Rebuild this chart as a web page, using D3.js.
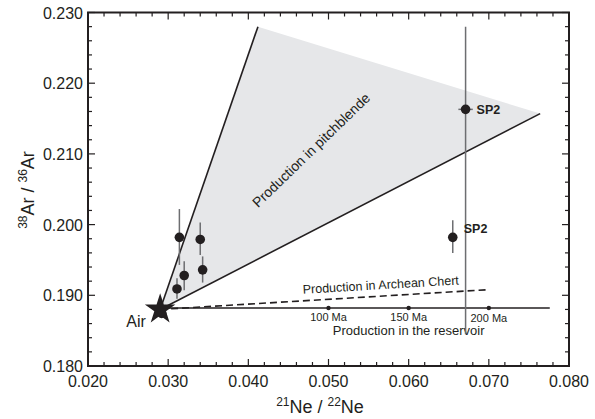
<!DOCTYPE html>
<html lang="en">
<head>
<meta charset="utf-8">
<title>Ne Ar</title>
<style>
  body { margin: 0; background: #fff; }
  svg text { font-family: "Liberation Sans", Arial, sans-serif; fill: #231f20; }
</style>
</head>
<body>
<div id="chart"></div>
<script src="https://d3js.org/d3.v7.min.js"></script>
<script>
// data
const airPoint = [0.0290, 0.1880];
const sampleX = [0.0314, 0.0340, 0.0320, 0.0343, 0.0311, 0.0671, 0.0655];
const sampleY = [0.1982, 0.1979, 0.1928, 0.1936, 0.1909, 0.2163, 0.1982];
const sampleYLow = [0.1943, 0.1957, 0.1907, 0.1918, 0.1895, 0.1845, 0.1960];
const sampleYHigh = [0.2022, 0.2003, 0.1948, 0.1955, 0.1924, 0.2280, 0.2006];
const sampleXErr = [0, 0, 0, 0, 0, 0.0009, 0];
const sampleLabels = ["", "", "", "", "", "SP2", "SP2"];

const pitchX = [0.0290, 0.0412, 0.0764];
const pitchY = [0.1880, 0.2280, 0.2157];
const chertX = [0.0290, 0.0700];
const chertY = [0.1880, 0.1908];
const reservoirX = [0.0290, 0.0776];
const reservoirY = [0.1882, 0.1882];
const ageX = [0.050, 0.060, 0.070];
const ageLabels = ["100 Ma", "150 Ma", "200 Ma"];

const xTicks = [0.02, 0.03, 0.04, 0.05, 0.06, 0.07, 0.08];
const yTicks = [0.18, 0.19, 0.20, 0.21, 0.22, 0.23];

const W = 595, H = 419;
const mLeft = 88, mRight = 569, mTop = 12.5, mBottom = 366;
const ink = "#231f20";

const svg = d3.select("#chart").append("svg")
  .attr("width", W).attr("height", H);

const x = d3.scaleLinear().domain([0.02, 0.08]).range([mLeft, mRight]);
const y = d3.scaleLinear().domain([0.18, 0.23]).range([mBottom, mTop]);

// shaded pitchblende field
svg.append("path")
  .attr("d", d3.line()(pitchX.map((d, i) => [x(d), y(pitchY[i])])) + "Z")
  .attr("fill", "#e6e7e9");

// its two bounding lines
[1, 2].forEach(i => {
  svg.append("line")
    .attr("x1", x(pitchX[0])).attr("y1", y(pitchY[0]))
    .attr("x2", x(pitchX[i])).attr("y2", y(pitchY[i]))
    .attr("stroke", ink).attr("stroke-width", 1.6);
});

svg.append("text")
  .attr("transform", "translate(312,151) rotate(-44)")
  .attr("text-anchor", "middle").attr("dominant-baseline", "middle")
  .attr("font-size", 14)
  .text("Production in pitchblende");

// reservoir line
svg.append("line")
  .attr("x1", x(reservoirX[0])).attr("y1", y(reservoirY[0]))
  .attr("x2", x(reservoirX[1])).attr("y2", y(reservoirY[1]))
  .attr("stroke", ink).attr("stroke-width", 1.6);

svg.selectAll(".age").data(ageX).enter().append("circle")
  .attr("cx", d => x(d)).attr("cy", y(reservoirY[0])).attr("r", 2.2)
  .attr("fill", ink);

svg.selectAll(".ageLabel").data(ageLabels).enter().append("text")
  .attr("x", (d, i) => x(ageX[i])).attr("y", (d, i) => i === 2 ? 321.5 : 320.5)
  .attr("text-anchor", "middle").attr("font-size", 11)
  .text(d => d);

svg.append("text")
  .attr("x", x(0.060)).attr("y", 334.5)
  .attr("text-anchor", "middle").attr("font-size", 13)
  .text("Production in the reservoir");

// archean chert dashed line
svg.append("line")
  .attr("x1", x(chertX[0])).attr("y1", y(chertY[0]))
  .attr("x2", x(chertX[1])).attr("y2", y(chertY[1]))
  .attr("stroke", ink).attr("stroke-width", 1.6)
  .attr("stroke-dasharray", "7,4");

const chertAngle = Math.atan2(y(chertY[1]) - y(chertY[0]), x(chertX[1]) - x(chertX[0])) * 180 / Math.PI;
const chertMid = x.invert(381);
const chertMidY = chertY[0] + (chertMid - chertX[0]) / (chertX[1] - chertX[0]) * (chertY[1] - chertY[0]);
svg.append("text")
  .attr("transform", `translate(381,${y(chertMidY) - 7}) rotate(${chertAngle})`)
  .attr("text-anchor", "middle").attr("font-size", 12.5)
  .text("Production in Archean Chert");

// samples
const samples = sampleX.map((d, i) => ({
  x: d, y: sampleY[i], lo: sampleYLow[i], hi: sampleYHigh[i], xe: sampleXErr[i], label: sampleLabels[i]
}));

svg.selectAll(".ebar").data(samples).enter().append("line")
  .attr("x1", d => x(d.x)).attr("x2", d => x(d.x))
  .attr("y1", d => y(d.lo)).attr("y2", d => y(d.hi))
  .attr("stroke", "#6d6e71").attr("stroke-width", 1.5);

svg.selectAll(".xbar").data(samples.filter(d => d.xe > 0)).enter().append("line")
  .attr("x1", d => x(d.x - d.xe)).attr("x2", d => x(d.x + d.xe))
  .attr("y1", d => y(d.y)).attr("y2", d => y(d.y))
  .attr("stroke", "#6d6e71").attr("stroke-width", 1.5);

svg.selectAll(".dot").data(samples).enter().append("circle")
  .attr("cx", d => x(d.x)).attr("cy", d => y(d.y)).attr("r", 4.8)
  .attr("fill", ink);

svg.selectAll(".lab").data(samples.filter(d => d.label)).enter().append("text")
  .attr("x", d => x(d.x) + 11).attr("y", (d, i) => y(d.y) + (i === 0 ? 5 : -4))
  .attr("font-size", 12.5).attr("font-weight", "bold")
  .text(d => d.label);

// air
svg.append("circle")
  .attr("cx", x(airPoint[0]) + 1.5).attr("cy", y(airPoint[1]) + 4).attr("r", 4.8)
  .attr("fill", ink);
svg.append("path")
  .attr("d", d3.symbol().type(d3.symbolStar).size(290)())
  .attr("transform", `translate(${x(airPoint[0])},${y(airPoint[1])})`)
  .attr("fill", ink);
svg.append("text")
  .attr("x", 136).attr("y", 327)
  .attr("text-anchor", "middle").attr("font-size", 16)
  .text("Air");

// frame and ticks
svg.append("rect")
  .attr("x", mLeft).attr("y", mTop).attr("width", mRight - mLeft).attr("height", mBottom - mTop)
  .attr("fill", "none").attr("stroke", ink).attr("stroke-width", 2);

const xMinor = d3.range(0, 31).map(i => 0.02 + i * 0.002);
const yMinor = d3.range(0, 26).map(i => 0.18 + i * 0.002);
const isMajor = (v, step) => Math.abs(Math.round(v / step) * step - v) < 1e-9;

const tg = svg.append("g").attr("stroke", ink).attr("stroke-width", 1.2);
xMinor.forEach(v => {
  const len = isMajor(v, 0.01) ? 7 : 4;
  tg.append("line").attr("x1", x(v)).attr("x2", x(v)).attr("y1", mBottom).attr("y2", mBottom - len);
  tg.append("line").attr("x1", x(v)).attr("x2", x(v)).attr("y1", mTop).attr("y2", mTop + len);
});
yMinor.forEach(v => {
  const len = isMajor(v, 0.01) ? 7 : 4;
  tg.append("line").attr("x1", mLeft).attr("x2", mLeft + len).attr("y1", y(v)).attr("y2", y(v));
  tg.append("line").attr("x1", mRight).attr("x2", mRight - len).attr("y1", y(v)).attr("y2", y(v));
});

svg.selectAll(".xt").data(xTicks).enter().append("text")
  .attr("x", d => x(d)).attr("y", 387)
  .attr("text-anchor", "middle").attr("font-size", 16)
  .text(d => d3.format(".3f")(d));

svg.selectAll(".yt").data(yTicks).enter().append("text")
  .attr("x", 83).attr("y", d => y(d) + 6)
  .attr("text-anchor", "end").attr("font-size", 16)
  .text(d => d3.format(".3f")(d));

// axis titles
const xt = svg.append("text").attr("x", 320).attr("y", 413)
  .attr("text-anchor", "middle").attr("font-size", 18);
xt.append("tspan").attr("baseline-shift", "super").attr("font-size", 12).text("21");
xt.append("tspan").text("Ne / ");
xt.append("tspan").attr("baseline-shift", "super").attr("font-size", 12).text("22");
xt.append("tspan").text("Ne");

const yt = svg.append("text").attr("transform", "translate(34,190) rotate(-90)")
  .attr("text-anchor", "middle").attr("font-size", 18);
yt.append("tspan").attr("baseline-shift", "super").attr("font-size", 12).text("38");
yt.append("tspan").text("Ar / ");
yt.append("tspan").attr("baseline-shift", "super").attr("font-size", 12).text("36");
yt.append("tspan").text("Ar");
</script>
</body>
</html>
